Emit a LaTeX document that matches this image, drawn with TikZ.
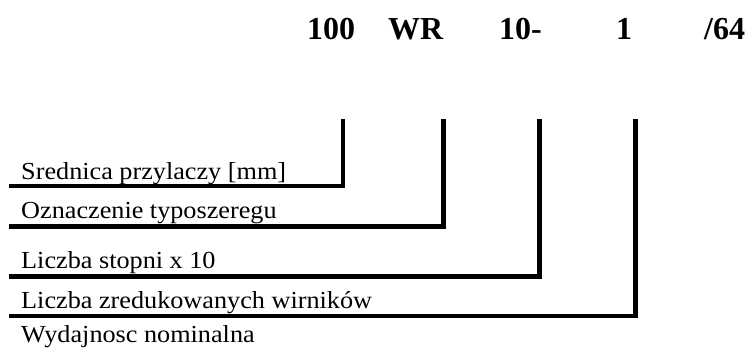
\documentclass[tikz,border=0pt]{standalone}
\usepackage{fontspec}
\setmainfont{Liberation Serif}
\newfontfamily\labelfont[FakeStretch=1.07]{Liberation Serif}
\tikzset{
  codebox/.style={anchor=base west, inner sep=0pt, font=\fontsize{32}{32}\selectfont\bfseries},
  labeltext/.style={anchor=base west, inner sep=0pt, font=\fontsize{24.5}{24.5}\labelfont},
  leader/.style={black, line width=4.5pt}
}
\begin{document}
\begin{tikzpicture}[x=1pt, y=-1pt]
    \useasboundingbox (0,0) rectangle (750,352);

    % type code
    \node[codebox] (c100) at (307,40) {100};
    \node[codebox] (cWR) at (388,40) {WR};
    \node[codebox] (c10) at (499,40) {10-};
    \node[codebox] (c1) at (616,40) {1};
    \node[codebox] (c64) at (704,40) {/64};

    % descriptions
    \node[labeltext] (l1) at (21,180) {Srednica przylaczy [mm]};
    \node[labeltext] (l2) at (21,219) {Oznaczenie typoszeregu};
    \node[labeltext] (l3) at (21,269) {Liczba stopni x 10};
    \node[labeltext] (l4) at (21,309) {Liczba zredukowanych wirników};
    \node[labeltext] (l5) at (21,343) {Wydajnosc nominalna};

    % leader lines
    \coordinate (t1) at (343,119);
    \coordinate (t2) at (443.5,119);
    \coordinate (t3) at (539.5,119);
    \coordinate (t4) at (635.5,119);
    \coordinate (e1) at (9,186);
    \coordinate (e2) at (9,226.5);
    \coordinate (e3) at (9,276.5);
    \coordinate (e4) at (9,316);

    \draw[leader] (t1) |- (e1);
    \draw[leader] (t2) |- (e2);
    \draw[leader] (t3) |- (e3);
    \draw[leader] (t4) |- (e4);
\end{tikzpicture}
\end{document}
